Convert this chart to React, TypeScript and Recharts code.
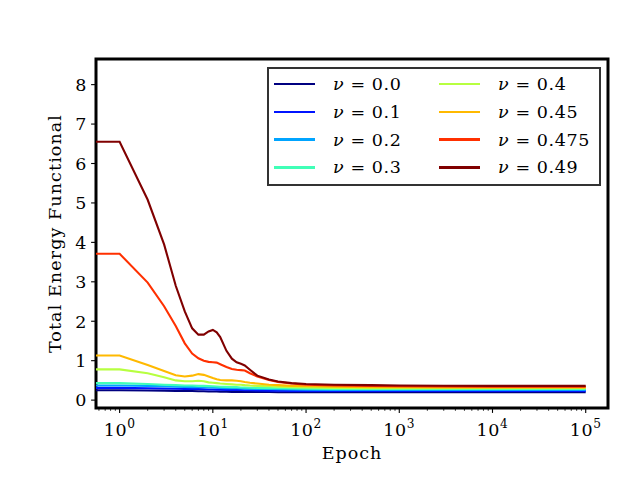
import React from "react"
import { LineChart, Line, XAxis, YAxis, ReferenceArea } from "recharts"

// epochs (0 is drawn at the left edge, like matplotlib clipping on a log axis)
const epochs = [0, 1, 2, 3, 4, 5, 6, 7, 8, 9, 10, 11, 12, 14, 16, 18, 20, 22, 25, 30, 40, 50, 70, 100, 200, 500, 1000, 3000, 10000, 30000, 100000]

const nu00 = [0.25, 0.25, 0.245, 0.24, 0.235, 0.23, 0.23, 0.225, 0.225, 0.22, 0.22, 0.22, 0.215, 0.215, 0.21, 0.21, 0.21, 0.21, 0.205, 0.205, 0.205, 0.2, 0.2, 0.2, 0.2, 0.2, 0.2, 0.2, 0.2, 0.2, 0.2]
const nu01 = [0.31, 0.31, 0.3, 0.295, 0.29, 0.285, 0.28, 0.28, 0.275, 0.27, 0.27, 0.265, 0.265, 0.26, 0.26, 0.255, 0.255, 0.25, 0.25, 0.245, 0.24, 0.24, 0.235, 0.235, 0.23, 0.23, 0.23, 0.23, 0.23, 0.23, 0.23]
const nu02 = [0.37, 0.37, 0.36, 0.35, 0.34, 0.335, 0.33, 0.33, 0.325, 0.32, 0.32, 0.315, 0.31, 0.305, 0.3, 0.3, 0.295, 0.29, 0.29, 0.285, 0.28, 0.275, 0.27, 0.265, 0.26, 0.255, 0.255, 0.255, 0.255, 0.255, 0.255]
const nu03 = [0.43, 0.43, 0.41, 0.39, 0.38, 0.37, 0.37, 0.36, 0.36, 0.355, 0.35, 0.345, 0.34, 0.335, 0.33, 0.33, 0.32, 0.32, 0.315, 0.31, 0.305, 0.3, 0.295, 0.29, 0.285, 0.28, 0.28, 0.28, 0.28, 0.28, 0.28]
const nu04 = [0.78, 0.78, 0.68, 0.58, 0.5, 0.48, 0.48, 0.49, 0.48, 0.45, 0.44, 0.43, 0.42, 0.41, 0.4, 0.39, 0.39, 0.38, 0.37, 0.36, 0.35, 0.34, 0.33, 0.32, 0.31, 0.305, 0.3, 0.3, 0.3, 0.3, 0.3]
const nu045 = [1.13, 1.13, 0.89, 0.74, 0.63, 0.6, 0.62, 0.66, 0.64, 0.6, 0.56, 0.53, 0.51, 0.5, 0.5, 0.49, 0.48, 0.46, 0.44, 0.42, 0.39, 0.38, 0.36, 0.35, 0.34, 0.33, 0.325, 0.32, 0.32, 0.32, 0.32]
const nu0475 = [3.71, 3.71, 2.98, 2.38, 1.88, 1.44, 1.18, 1.06, 1.0, 0.97, 0.96, 0.95, 0.91, 0.84, 0.79, 0.77, 0.76, 0.75, 0.68, 0.6, 0.51, 0.46, 0.42, 0.39, 0.37, 0.36, 0.35, 0.345, 0.34, 0.34, 0.34]
const nu049 = [6.55, 6.55, 5.08, 3.95, 2.9, 2.25, 1.82, 1.66, 1.66, 1.74, 1.78, 1.72, 1.6, 1.25, 1.05, 0.96, 0.92, 0.88, 0.77, 0.62, 0.52, 0.47, 0.43, 0.41, 0.39, 0.38, 0.37, 0.365, 0.36, 0.36, 0.36]

const seriesLabels = ["0.0", "0.1", "0.2", "0.3", "0.4", "0.45", "0.475", "0.49"]
const seriesValues = [nu00, nu01, nu02, nu03, nu04, nu045, nu0475, nu049]
const seriesColors = ["#000080", "#0014ff", "#00a4ff", "#40ffb7", "#b7ff40", "#ffb900", "#ff3000", "#800000"]

const yTicks = [0, 1, 2, 3, 4, 5, 6, 7, 8]
const decades = [0, 1, 2, 3, 4, 5]

const X_MIN = 0.558
const X_MAX = 173400
const Y_MIN = -0.2
const Y_MAX = 8.65

const FONT = "'DejaVu Serif', serif"
const FS = 17.5
const LS = 1

const data = epochs.map((epoch, i) => {
    const row: Record<string, number> = { epoch }
    seriesLabels.forEach((lab, s) => { row["nu" + lab] = seriesValues[s][i] })
    return row
})

// major + minor ticks inside the axis range
const xTicks: number[] = []
for (let e = -1; e <= 5; e++) {
    for (let m = 1; m <= 9; m++) {
        const v = m * Math.pow(10, e)
        if (v >= X_MIN && v <= X_MAX) xTicks.push(v)
    }
}

function XTick(props: any) {
    const { x, y, payload } = props
    const v = payload.value
    const lg = Math.log10(v)
    const exp = Math.round(lg)
    const major = Math.abs(lg - exp) < 1e-6 && decades.includes(exp)
    return (
        <g>
            <line x1={x} x2={x} y1={y} y2={y + (major ? 4.9 : 2.8)} stroke="#000" strokeWidth={major ? 1.1 : 0.8} />
            {major && (
                <text x={x} y={y + 28} textAnchor="middle" fontFamily={FONT} fontSize={FS} letterSpacing={0.6} fill="#000">
                    <tspan>10</tspan>
                    <tspan dy={-7.7} fontSize={12.2}>{exp}</tspan>
                </text>
            )}
        </g>
    )
}

function YTick(props: any) {
    const { x, y, payload } = props
    return (
        <g>
            <line x1={x - 4.9} x2={x} y1={y} y2={y} stroke="#000" strokeWidth={1.1} />
            <text x={x - 9.5} y={y} dy="0.36em" textAnchor="end" fontFamily={FONT} fontSize={FS} fill="#000">
                {payload.value}
            </text>
        </g>
    )
}

function Legend8() {
    return (
        <div
            style={{
                position: "absolute",
                left: 267,
                top: 67,
                width: 330,
                height: 115,
                border: "2.5px solid #333",
                background: "rgba(255,255,255,0.8)",
                fontFamily: FONT,
                fontSize: FS,
                letterSpacing: 0.6,
                color: "#000",
            }}
        >
            {seriesLabels.map((lab, i) => {
                const col = Math.floor(i / 4)
                const row = i % 4
                return (
                    <div key={lab} style={{ position: "absolute", left: 5 + col * 165, top: 3 + row * 27.8, height: 24, display: "flex", alignItems: "center", whiteSpace: "nowrap" }}>
                        <div style={{ width: 41, height: 2.5, background: seriesColors[i] }} />
                        <span style={{ marginLeft: 18 }}>
                            <i>ν</i>&nbsp;=&nbsp;{lab}
                        </span>
                    </div>
                )
            })}
        </div>
    )
}

export default function App() {
    return (
        <div style={{ position: "absolute", left: 0, top: 0, width: 640, height: 480, background: "#fff" }}>
            <LineChart width={640} height={480} data={data} margin={{ top: 59, right: 32, bottom: 0, left: 0 }}>
                <XAxis
                    type="number"
                    scale="log"
                    dataKey={(d: any) => Math.max(d.epoch, X_MIN)}
                    domain={[X_MIN, X_MAX]}
                    allowDataOverflow
                    ticks={xTicks}
                    interval={0}
                    tick={<XTick />}
                    tickLine={false}
                    axisLine={false}
                    tickSize={0}
                    tickMargin={0}
                    height={72}
                    label={{
                        content: () => (
                            <text x={352} y={459.3} textAnchor="middle" fontFamily={FONT} fontSize={FS} letterSpacing={LS} fill="#000">
                                Epoch
                            </text>
                        ),
                    }}
                />
                <YAxis
                    type="number"
                    domain={[Y_MIN, Y_MAX]}
                    allowDataOverflow
                    ticks={yTicks}
                    interval={0}
                    tick={<YTick />}
                    tickLine={false}
                    axisLine={false}
                    tickSize={0}
                    tickMargin={0}
                    width={96}
                    label={{
                        content: () => (
                            <text transform="translate(61, 233.5) rotate(-90)" textAnchor="middle" fontFamily={FONT} fontSize={FS} letterSpacing={1.1} fill="#000">
                                Total Energy Functional
                            </text>
                        ),
                    }}
                />
                {seriesLabels.map((lab, i) => (
                    <Line
                        key={lab}
                        type="linear"
                        dataKey={"nu" + lab}
                        stroke={seriesColors[i]}
                        strokeWidth={2.1}
                        dot={false}
                        activeDot={false}
                        isAnimationActive={false}
                    />
                ))}
                <ReferenceArea x1={X_MIN} x2={X_MAX} y1={Y_MIN} y2={Y_MAX} fill="none" stroke="#000" strokeWidth={3} ifOverflow="visible" />
            </LineChart>
            <Legend8 />
        </div>
    )
}
